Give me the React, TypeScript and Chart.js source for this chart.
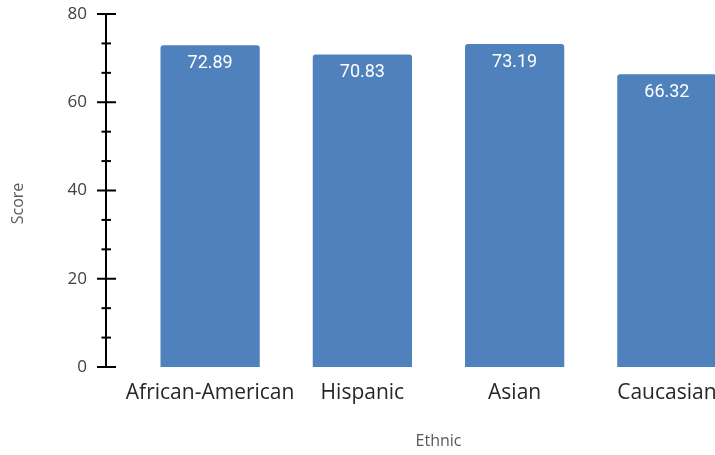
import React, { useEffect, useRef } from "react";
import { Chart, registerables } from "chart.js";

Chart.register(...registerables);

const categories = ["African-American", "Hispanic", "Asian", "Caucasian"];
const scores = [72.89, 70.83, 73.19, 66.32];
const yTicks = [0, 20, 40, 60, 80];
const minorPerMajor = 3;
const xTitle = "Ethnic";
const yTitle = "Score";

const BAR_COLOR = "#4F81BD";

const axisPlugin = {
  id: "customAxis",
  afterDraw(chart: any) {
    const { ctx, chartArea } = chart;
    const y = chart.scales.y;
    const x0 = chartArea.left - 28;
    ctx.save();
    ctx.strokeStyle = "#000";
    ctx.lineWidth = 2;
    ctx.beginPath();
    ctx.moveTo(x0, y.getPixelForValue(yTicks[0]));
    ctx.lineTo(x0, y.getPixelForValue(yTicks[yTicks.length - 1]));
    ctx.stroke();
    for (let i = 0; i < yTicks.length; i++) {
      const py = y.getPixelForValue(yTicks[i]);
      ctx.beginPath();
      ctx.moveTo(x0 - 9, py);
      ctx.lineTo(x0 + 10, py);
      ctx.stroke();
      if (i < yTicks.length - 1) {
        const step = (yTicks[i + 1] - yTicks[i]) / minorPerMajor;
        for (let k = 1; k < minorPerMajor; k++) {
          const my = y.getPixelForValue(yTicks[i] + k * step);
          ctx.beginPath();
          ctx.moveTo(x0 - 4.5, my);
          ctx.lineTo(x0 + 5, my);
          ctx.stroke();
        }
      }
    }
    // y title
    ctx.translate(18, (y.top + y.bottom) / 2 + 13);
    ctx.rotate(-Math.PI / 2);
    ctx.fillStyle = "#595959";
    ctx.font = "16px 'Open Sans'";
    ctx.textAlign = "center";
    ctx.textBaseline = "middle";
    ctx.fillText(yTitle, 0, 0);
    ctx.restore();
  },
};

const labelPlugin = {
  id: "barLabels",
  afterDatasetsDraw(chart: any) {
    const { ctx } = chart;
    const meta = chart.getDatasetMeta(0);
    ctx.save();
    ctx.fillStyle = "#ffffff";
    ctx.font = "18px Roboto";
    ctx.textAlign = "center";
    ctx.textBaseline = "middle";
    meta.data.forEach((bar: any, i: number) => {
      ctx.fillText(scores[i].toFixed(2), bar.x, bar.y + 18);
    });
    ctx.restore();
  },
};

export default function App() {
  const canvasRef = useRef<HTMLCanvasElement | null>(null);

  useEffect(() => {
    if (!canvasRef.current) return;
    const chart = new Chart(canvasRef.current, {
      type: "bar",
      data: {
        labels: categories,
        datasets: [
          {
            data: scores,
            backgroundColor: BAR_COLOR,
            borderRadius: 3,
            categoryPercentage: 1,
            barPercentage: 0.652,
          },
        ],
      },
      options: {
        responsive: false,
        animation: false,
        layout: { padding: { left: 0, top: 14, right: 2, bottom: 0 } },
        plugins: {
          legend: { display: false },
          tooltip: { enabled: false },
        },
        scales: {
          x: {
            grid: { display: false, drawTicks: false },
            border: { display: false },
            ticks: {
              color: "#262626",
              font: { family: "'Open Sans'", size: 21 },
              padding: 13,
              maxRotation: 0,
              autoSkip: false,
            },
            title: {
              display: true,
              text: xTitle,
              color: "#595959",
              font: { family: "'Open Sans'", size: 16 },
              padding: { top: 4, bottom: 4 },
            },
            afterFit: (scale: any) => {
              scale.height = 88;
            },
          },
          y: {
            min: 0,
            max: 80,
            grid: { display: false, drawTicks: true, tickLength: 47 },
            border: { display: false },
            ticks: {
              stepSize: 20,
              color: "#404040",
              font: { family: "'Open Sans'", size: 17 },
              padding: 0,
            },
            afterFit: (scale: any) => {
              scale.width = 134;
            },
          },
        },
      },
      plugins: [axisPlugin, labelPlugin],
    });
    return () => chart.destroy();
  }, []);

  return (
    <div
      style={{
        position: "fixed",
        left: 0,
        top: 0,
        width: 715,
        height: 455,
        overflow: "hidden",
        background: "#fff",
      }}
    >
      <canvas ref={canvasRef} width={745} height={455} style={{ display: "block" }} />
    </div>
  );
}
